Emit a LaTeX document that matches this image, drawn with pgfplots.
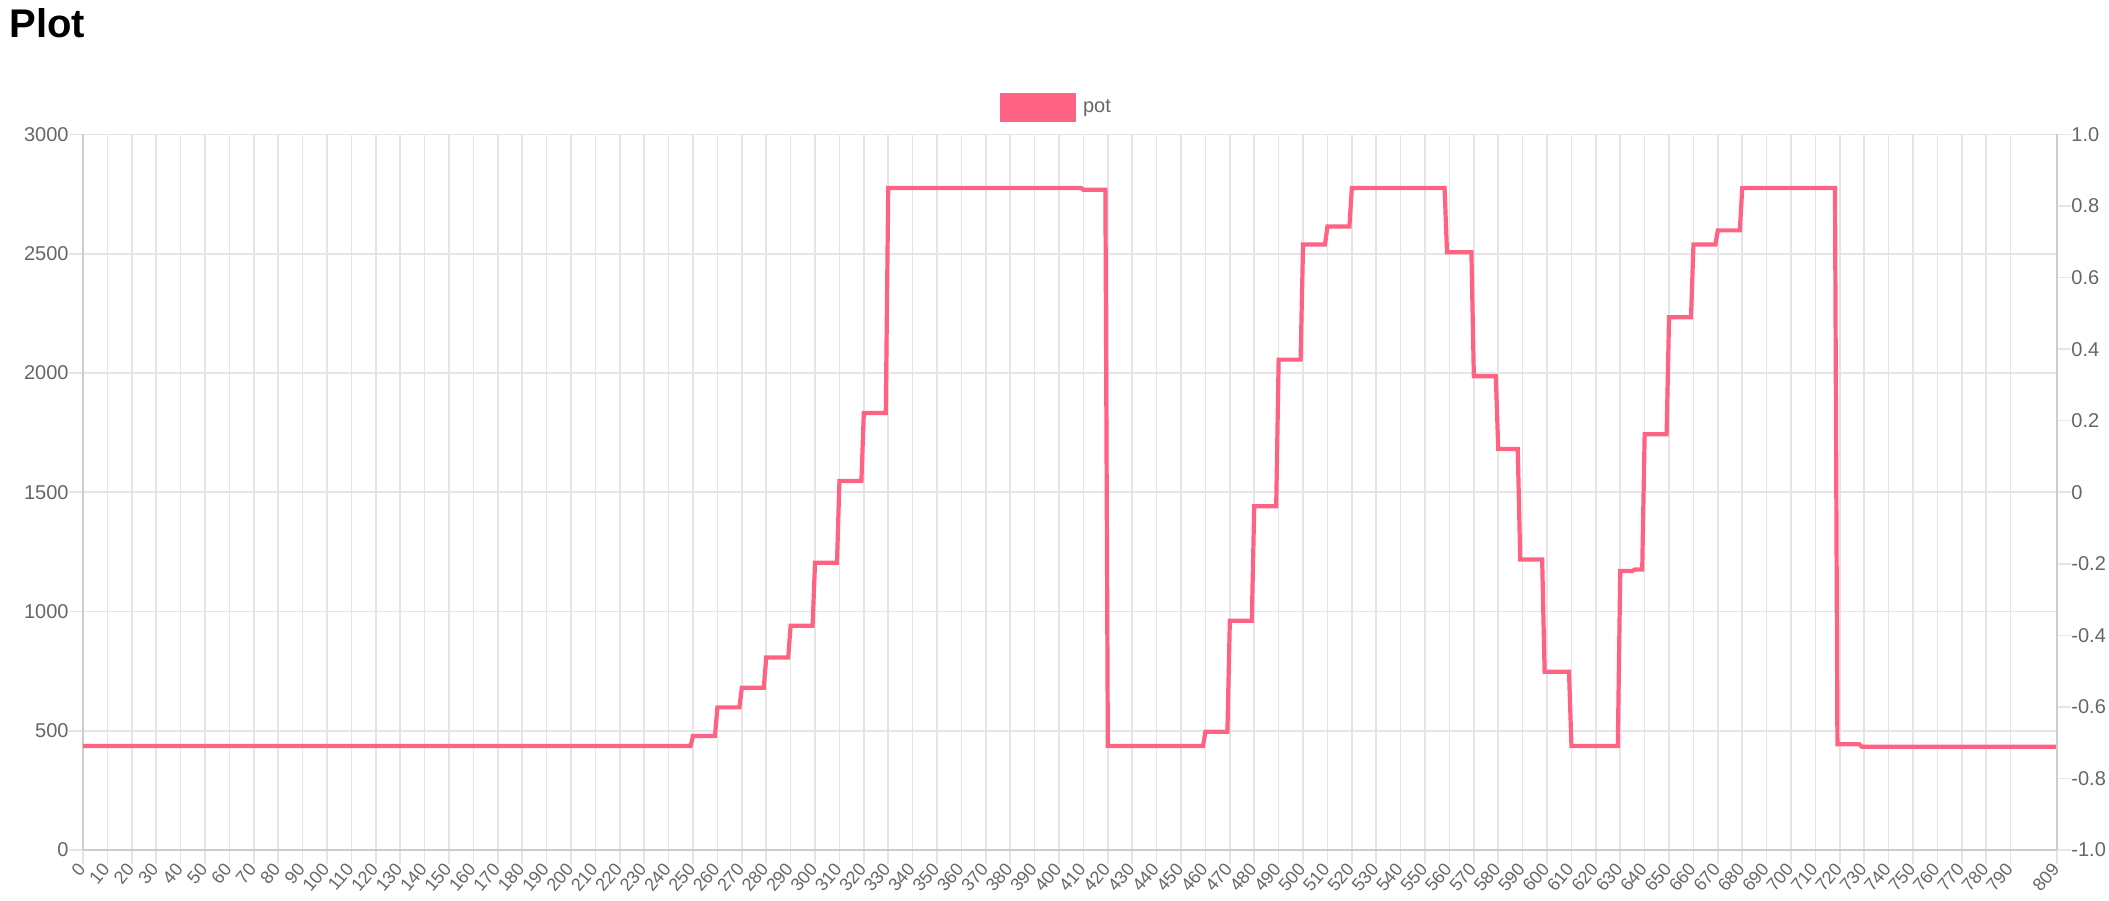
\documentclass[border=0pt]{standalone}
\usepackage{fontspec}
\setmainfont{Liberation Sans}
\usepackage{pgfplots}
\pgfplotsset{compat=1.18}
\definecolor{pot}{HTML}{FF6384}
\definecolor{tickc}{HTML}{666666}
\definecolor{gridc}{HTML}{E5E5E5}
\definecolor{axisc}{HTML}{CCCCCC}

\pgfplotsset{
  base/.style={
    scale only axis, width=987pt, height=357.75pt,
    at={(41.5pt,25pt)}, anchor=south west,
    xmin=0, xmax=809,
    tick align=outside, major tick length=7pt,
    axis line style={draw=axisc, line width=1pt},
    tick style={draw=gridc, line width=0.8pt},
    ticklabel style={font=\fontsize{10}{12}\selectfont, text=tickc},
    /pgf/number format/assume math mode=true,
    /pgf/number format/1000 sep={},
    scaled ticks=false,
  }
}

\begin{document}
\begin{tikzpicture}
\path[use as bounding box] (0,0) rectangle (1054.5pt,450pt);
\node[anchor=base west, inner sep=0pt, font=\fontsize{20}{24}\selectfont\bfseries] at (4.6pt,431pt) {Plot};

\begin{axis}[
  base,
  ymin=0, ymax=3000,
  axis x line*=bottom, axis y line*=left,
  xtick={0,10,...,790,809},
  ytick={0,500,...,3000},
  grid=major,
  grid style={draw=gridc, line width=0.8pt},
  xticklabel style={font=\fontsize{9}{11}\selectfont, rotate=50, anchor=east, inner sep=0pt, xshift=-1pt},
  yticklabel style={anchor=east, inner sep=0pt},
  legend style={at={(0.4645,1.0378)}, anchor=west, draw=none, fill=none,
    inner sep=0pt, outer sep=0pt, font=\fontsize{10}{12}\selectfont, text=tickc,
    nodes={inner sep=0pt}},
  legend image code/.code={\fill[pot] (0pt,-6.25pt) rectangle (36pt,6.25pt); \path (39.5pt,0pt);},
]
\addplot[pot, line width=2.1pt, line join=miter] coordinates {
(0,436) (249,436) (250,478) (259,478) (260,598) (269,598) (270,680) (279,680)
(280,807) (289,807) (290,940) (299,940) (300,1204) (309,1204) (310,1547) (319,1547)
(320,1832) (329,1832) (330,2776) (409,2776) (410,2768) (419,2768) (420,436) (459,436)
(460,496) (469,496) (470,961) (479,961) (480,1441) (489,1441) (490,2056) (499,2056)
(500,2539) (509,2539) (510,2614) (519,2614) (520,2776) (558,2776) (559,2506) (569,2506)
(570,1986) (579,1986) (580,1681) (588,1681) (589,1218) (598,1218) (599,747) (609,747)
(610,436) (629,436) (630,1170) (635,1170) (636,1176) (639,1176) (640,1743) (649,1743)
(650,2234) (659,2234) (660,2539) (669,2539) (670,2598) (679,2598) (680,2776) (718,2776)
(719,443) (728,443) (729,433) (809,433)
};
\addlegendentry{pot}
\end{axis}

\begin{axis}[
  base,
  ymin=-1, ymax=1,
  axis x line=none, axis y line*=right,
  ytick={-1,-0.8,-0.6,-0.4,-0.2,0,0.2,0.4,0.6,0.8,1},
  yticklabels={-1.0,-0.8,-0.6,-0.4,-0.2,0,0.2,0.4,0.6,0.8,1.0},
  yticklabel style={anchor=west, inner sep=0pt},
]
\end{axis}
\end{tikzpicture}
\end{document}
